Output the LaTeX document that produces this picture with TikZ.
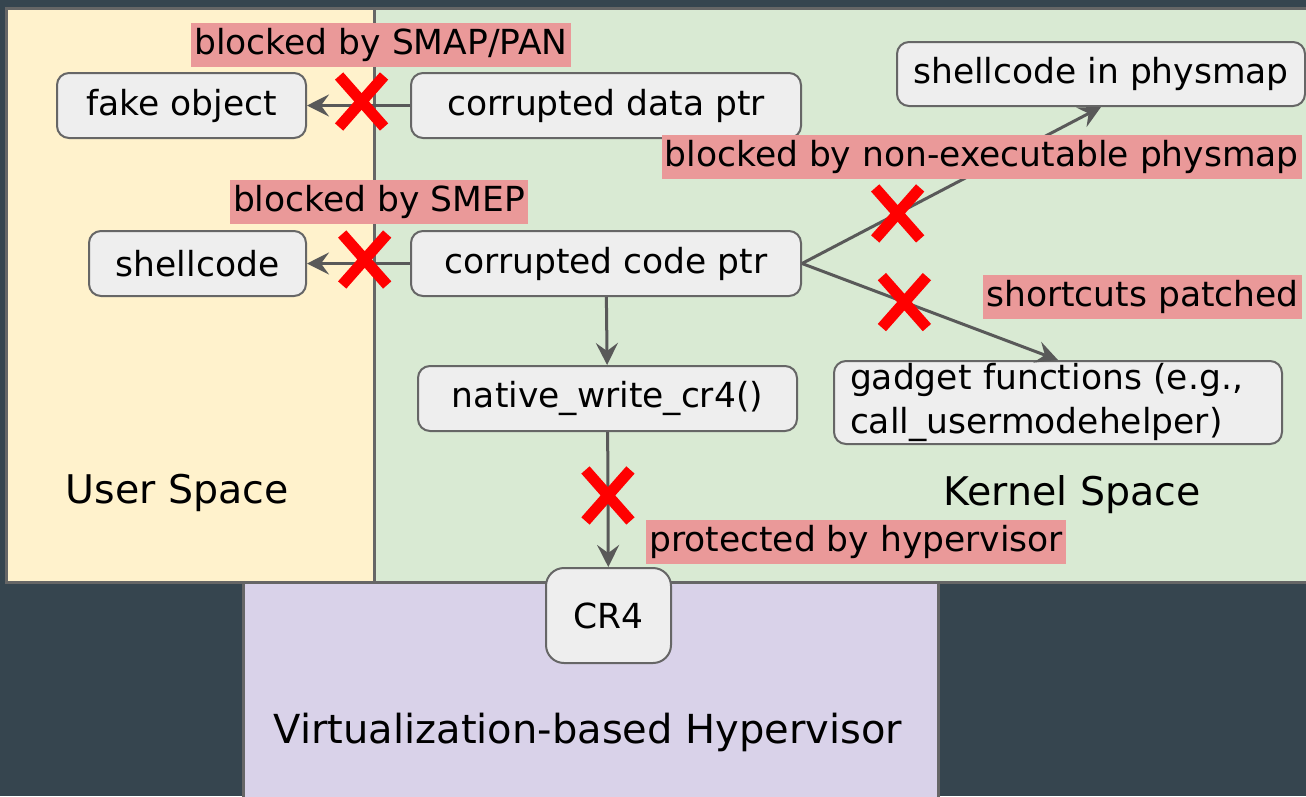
\documentclass[tikz,border=0pt]{standalone}
\usepackage{fontspec}
\setmainfont{DejaVu Sans}
\usetikzlibrary{arrows.meta,shapes.misc}

\definecolor{slate}{HTML}{36454F}
\definecolor{userfill}{HTML}{FFF2CC}
\definecolor{kernfill}{HTML}{D9EAD3}
\definecolor{hypfill}{HTML}{D9D2E9}
\definecolor{tagfill}{HTML}{EA9999}
\definecolor{boxfill}{HTML}{EEEEEE}
\definecolor{edgegray}{HTML}{666666}
\definecolor{flowgray}{HTML}{595959}

\tikzset{
  region/.style={draw=edgegray,line width=3pt},
  ptrbox/.style={draw=edgegray,fill=boxfill,line width=2pt,rounded corners=12pt,
    minimum height=65pt,inner sep=0pt},
  tag/.style={fill=tagfill,inner xsep=3pt,inner ysep=4.5pt,text height=27pt,text depth=8pt},
  flow/.style={draw=flowgray,line width=3pt,-{Stealth[length=22pt,width=22pt,inset=8pt]}},
  nogo/.style={cross out,draw=red,line width=11pt,minimum width=34pt,minimum height=40pt,inner sep=0pt},
}

\begin{document}
\begin{tikzpicture}[x=1pt,y=-1pt,every node/.style={font=\fontsize{34.5}{44}\selectfont}]
\useasboundingbox (0,0) rectangle (1306,796);
\fill[slate] (0,0) rectangle (1306,796);

% user, kernel and hypervisor areas
\draw[region,fill=userfill] (6,8) rectangle (374,582);
\draw[region,fill=kernfill] (374,8) rectangle (1316,582);
\draw[region,fill=hypfill] (243,582) rectangle (938,806);
\node[font=\fontsize{39.5}{46}\selectfont] (user) at (177,493) {User Space};
\node[font=\fontsize{39.5}{46}\selectfont] (kern) at (1072,495) {Kernel Space};
\node[font=\fontsize{40}{46}\selectfont] (hyp) at (588,732) {Virtualization-based Hypervisor};

% pointers and what they reach
\node[ptrbox,minimum width=249pt] (fake) at (181.5,105.5) {fake object};
\node[ptrbox,minimum width=390pt] (dptr) at (606,105.5) {corrupted data ptr};
\node[ptrbox,minimum width=408pt,minimum height=64pt] (phys) at (1101,74) {shellcode in physmap};
\node[ptrbox,minimum width=217pt] (shell) at (197.5,263.5) {shellcode};
\node[ptrbox,minimum width=390pt] (cptr) at (606,263.5) {corrupted code ptr};
\node[ptrbox,minimum width=379pt] (wcr4) at (607.5,398.5) {native\_write\_cr4()};
\node[ptrbox,minimum width=448pt,minimum height=83pt,align=left,text width=416pt] (gad) at (1058,402.5)
  {gadget functions (e.g.,\\call\_usermodehelper)};
\node[ptrbox,minimum width=125pt,minimum height=95pt,rounded corners=18pt] (cr4) at (608.5,615.5) {CR4};

% attack paths, the blocked ones crossed out
\draw[flow] (dptr) -- (fake) node[nogo,pos=0.47,yshift=4pt] (nosmap) {};
\draw[flow] (cptr) -- (shell) node[nogo,pos=0.44,yshift=4pt] (nosmep) {};
\draw[flow] (cptr.east) -- (phys.south) node[nogo,pos=0.32] (nonx) {};
\draw[flow] (cptr.east) -- (gad.north) node[nogo,pos=0.40] (nogad) {};
\draw[flow] (cptr) -- (wcr4);
\draw[flow] (wcr4) -- (cr4) node[nogo,pos=0.47] (nocr4) {};

% why each path fails
\node[tag] (smap) at (381,45) {blocked by SMAP/PAN};
\node[tag] (smep) at (379,202) {blocked by SMEP};
\node[tag,anchor=east] (nx) at (1302,156.5) {blocked by non-executable physmap};
\node[tag,anchor=east] (patch) at (1302,296.5) {shortcuts patched};
\node[tag,anchor=west] (hv) at (646,542) {protected by hypervisor};
\end{tikzpicture}
\end{document}
